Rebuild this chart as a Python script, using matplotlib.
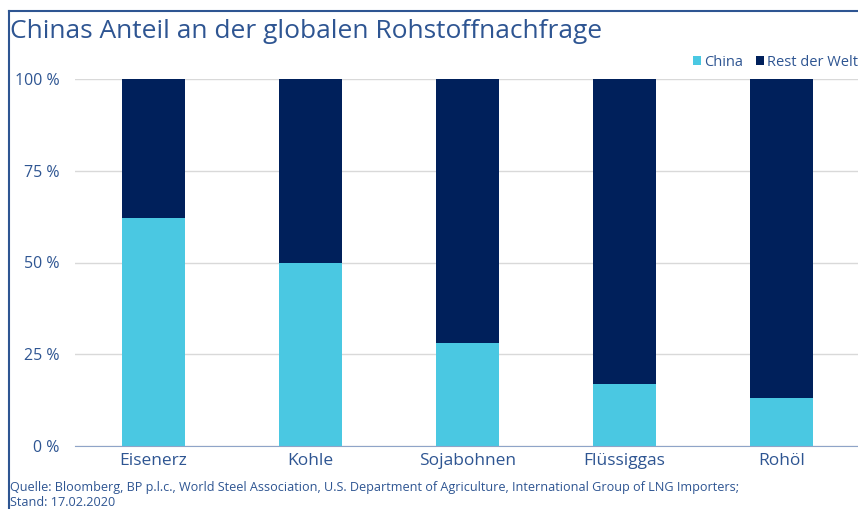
import matplotlib
matplotlib.use("Agg")
import matplotlib.pyplot as plt
from matplotlib.lines import Line2D

# Daten (Anteil in %)
rohstoffe = ["Eisenerz", "Kohle", "Sojabohnen", "Flüssiggas", "Rohöl"]
china = [62, 50, 28, 17, 13]
rest = [100 - v for v in china]
y_ticks = [0, 25, 50, 75, 100]
y_labels = ["0 %", "25 %", "50 %", "75 %", "100 %"]

c_china = "#4ac8e2"
c_rest = "#00205b"
c_text = "#2e5592"

plt.rcParams["font.family"] = ["Open Sans", "DejaVu Sans"]

fig = plt.figure(figsize=(8.58, 5.09), dpi=100)
ax = fig.add_axes([75 / 858, 1 - 446 / 509, 785 / 858, 367 / 509])

x = range(len(rohstoffe))
ax.bar(x, china, width=0.395, color=c_china, label="China", zorder=3)
ax.bar(x, rest, bottom=china, width=0.395, color=c_rest, label="Rest der Welt", zorder=3)

ax.set_xlim(-0.5, len(rohstoffe) - 0.5)
ax.set_ylim(0, 100)
ax.set_yticks(y_ticks)
ax.set_yticklabels(y_labels)
ax.set_xticks(list(x))
ax.set_xticklabels(rohstoffe)
ax.tick_params(axis="y", length=0, pad=11, labelsize=11.5, labelcolor=c_text)
ax.tick_params(axis="x", length=0, pad=5, labelsize=12.5, labelcolor=c_text)
ax.yaxis.grid(True, color="#d9d9d9", lw=1, zorder=0)
for s in ["top", "right", "left"]:
    ax.spines[s].set_visible(False)
ax.spines["bottom"].set_color("#8fa4c8")
ax.spines["bottom"].set_zorder(4)

# Legende oben rechts
leg = ax.legend(loc="lower left", bbox_to_anchor=(693 / 858, 1 - 70 / 509),
                bbox_transform=fig.transFigure, ncol=2, frameon=False,
                handlelength=0.55, handleheight=0.55, handletextpad=0.2,
                columnspacing=0.9, borderpad=0, borderaxespad=0, fontsize=10.5)
for t in leg.get_texts():
    t.set_color(c_text)

# Rahmen oben und links
fig.add_artist(Line2D([9 / 858, 1], [1 - 11 / 509, 1 - 11 / 509], color=c_text, lw=1.5))
fig.add_artist(Line2D([9 / 858, 9 / 858], [0, 1 - 11 / 509], color=c_text, lw=1.5))

fig.text(10 / 858, 1 - 31 / 509, "Chinas Anteil an der globalen Rohstoffnachfrage",
         fontsize=19, color=c_text, va="center", ha="left")
fig.text(10 / 858, 1 - 488 / 509,
         "Quelle: Bloomberg, BP p.l.c., World Steel Association, U.S. Department of Agriculture, "
         "International Group of LNG Importers;",
         fontsize=9.1, color=c_text, va="center", ha="left")
fig.text(10 / 858, 1 - 503 / 509, "Stand: 17.02.2020",
         fontsize=9.1, color=c_text, va="center", ha="left")

fig.savefig("out.png", dpi=100)
